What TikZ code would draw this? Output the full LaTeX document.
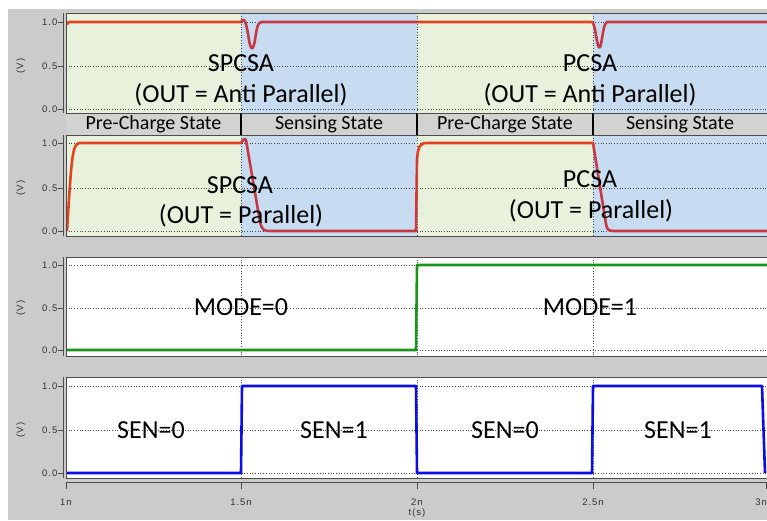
\documentclass[tikz,border=0pt]{standalone}
\usepackage{fontspec}
\setmainfont{Carlito}
\newfontfamily\axisfont[LetterSpace=10]{Liberation Sans}
\definecolor{bggray}{RGB}{203,203,203}
\definecolor{bargray}{RGB}{210,210,210}
\definecolor{pregreen}{RGB}{231,241,219}
\definecolor{senseblue}{RGB}{199,220,240}
\definecolor{traceorange}{RGB}{226,66,32}
\definecolor{tracecrimson}{RGB}{200,56,66}
\definecolor{modegreen}{RGB}{24,150,24}
\definecolor{senline}{RGB}{12,12,232}
% red output traces of the two upper panels, colour given as argument
\newcommand\redtraces[1]{%
  \draw[trace,#1] (66,22) -- (67,24) -- (69,22) -- (241,22)
    .. controls (244,17) and (246,20) .. (249,40)
    .. controls (251,51) and (253,51) .. (255,40)
    .. controls (257,26) and (258,22) .. (262,22) -- (592,22)
    .. controls (595,24) and (596,38) .. (598,45)
    .. controls (599,49) and (600,48) .. (601,44)
    .. controls (603,33) and (604,23) .. (607,22) -- (770,22);
  \draw[trace,#1] (67,231) .. controls (69,200) and (71,160) .. (74,150)
    .. controls (76,143) and (78,143) .. (82,143) -- (241,143)
    .. controls (243,141) and (244,137) .. (246,140) -- (260,222)
    .. controls (262,230) and (264,231) .. (270,231) -- (416,231)
    -- (417,160) .. controls (418,146) and (420,143) .. (427,143) -- (593,143)
    -- (606,224) .. controls (607,230) and (609,231) .. (614,231) -- (770,231);
}
\begin{document}
\begin{tikzpicture}[x=1pt,y=-1pt,
  biglabel/.style={font=\fontsize{26}{28}\selectfont, anchor=base, inner sep=0pt},
  statelabel/.style={font=\fontsize{20}{22}\selectfont, anchor=base, inner sep=0pt},
  ticklabel/.style={font=\axisfont\fontsize{9.5}{10}\selectfont, text=black!80, inner sep=0pt},
  gridline/.style={dotted, line width=0.7pt, black!70},
  framebox/.style={draw=black!70, line width=0.9pt},
  axisline/.style={black!70, line width=0.8pt},
  trace/.style={line width=2.6pt, line join=round},
]
\useasboundingbox (0,0) rectangle (767,520);
\fill[bggray] (8,9) rectangle (767,520);

% plot areas
\fill[pregreen] (66,13) rectangle (241,113) (417,13) rectangle (593,113);
\fill[senseblue] (241,13) rectangle (417,113) (593,13) rectangle (770,113);
\fill[pregreen] (66,135) rectangle (241,236) (417,135) rectangle (593,236);
\fill[senseblue] (241,135) rectangle (417,236) (593,135) rectangle (770,236);
\fill[white] (66,257) rectangle (770,356);
\fill[white] (66,377) rectangle (770,478);

% state bar
\fill[bargray] (66,113) rectangle (770,135);
\draw[framebox] (66,113) -- (770,113) (66,135) -- (770,135);
\foreach \xs in {241,417,593}
  \draw[black, line width=2.6pt] (\xs,113) -- (\xs,135);

% axes, ticks and grid for the four panels
\foreach \p/\t/\b/\ya/\yb/\yc in {1/13/113/22/66/109, 2/135/236/143/188/231,
                                  3/257/356/265/308/350, 4/377/478/386/430/473}{
  \draw[gridline] (66,\ya) -- (770,\ya) (66,\yb) -- (770,\yb) (66,\yc) -- (770,\yc);
  \draw[gridline] (241,\t) -- (241,\b) (417,\t) -- (417,\b) (593,\t) -- (593,\b);
  \draw[axisline] (63,\t) -- (63,\b);
  \draw[axisline] (58,\ya) -- (63,\ya) (58,\yb) -- (63,\yb) (58,\yc) -- (63,\yc);
  \node[ticklabel, anchor=east] (ya\p) at (57.5,\ya) {1.0};
  \node[ticklabel, anchor=east] (yb\p) at (57.5,\yb) {0.5};
  \node[ticklabel, anchor=east] (yc\p) at (57.5,\yc) {0.0};
  \node[ticklabel, rotate=90] (unit\p) at (21,\yb) {(V)};
}

% traces
\begin{scope}
  \clip (66,13) rectangle (241,236) (417,13) rectangle (593,236);
  \redtraces{traceorange}
\end{scope}
\begin{scope}
  \clip (241,13) rectangle (417,236) (593,13) rectangle (767,236);
  \redtraces{tracecrimson}
\end{scope}
\begin{scope}
  \clip (66,257) rectangle (767,478);
  \draw[trace, modegreen] (64,350) -- (416,350) -- (417,265) -- (770,265);
  \draw[trace, senline] (64,473) -- (241,473) -- (242,386) -- (416,386)
    -- (417,473) -- (592,473) -- (593,386) -- (762,386) -- (765,473);
\end{scope}

% panel frames
\draw[framebox] (770,13) -- (66,13) -- (66,113);
\draw[framebox] (770,135) -- (66,135) -- (66,236) -- (770,236);
\draw[framebox] (770,257) -- (66,257) -- (66,356) -- (770,356);
\draw[framebox] (770,377) -- (66,377) -- (66,478) -- (770,478);

% time axis
\draw[axisline] (66,482) -- (770,482);
\foreach \xs/\lab/\n in {66/1n/a, 241/1.5n/b, 417/2n/c, 593/2.5n/d}{
  \draw[axisline] (\xs,482) -- (\xs,489);
  \node[ticklabel] (tx\n) at (\xs,502) {\lab};
}
\draw[axisline] (766,482) -- (766,489);
\node[ticklabel, anchor=east] (txe) at (767,502) {3n};
\node[ticklabel] (tunit) at (417,513) {t(s)};

% state names
\node[statelabel] (st1) at (153.5,129) {Pre-Charge State};
\node[statelabel] (st2) at (329,129) {Sensing State};
\node[statelabel] (st3) at (505,129) {Pre-Charge State};
\node[statelabel] (st4) at (680,129) {Sensing State};

% annotations
\node[biglabel] (spcsaA) at (241,71) {SPCSA};
\node[biglabel] (outA1) at (241,102) {(OUT = Anti Parallel)};
\node[biglabel] (pcsaA) at (590,71) {PCSA};
\node[biglabel] (outA2) at (590,102) {(OUT = Anti Parallel)};
\node[biglabel] (spcsaP) at (240,193) {SPCSA};
\node[biglabel] (outP1) at (241,223) {(OUT = Parallel)};
\node[biglabel] (pcsaP) at (590,187) {PCSA};
\node[biglabel] (outP2) at (591,218) {(OUT = Parallel)};
\node[biglabel] (mode0) at (241,315) {MODE=0};
\node[biglabel] (mode1) at (590,315) {MODE=1};
\node[biglabel] (sen0a) at (151,438) {SEN=0};
\node[biglabel] (sen1a) at (334,438) {SEN=1};
\node[biglabel] (sen0b) at (505,438) {SEN=0};
\node[biglabel] (sen1b) at (678,438) {SEN=1};
\end{tikzpicture}
\end{document}
